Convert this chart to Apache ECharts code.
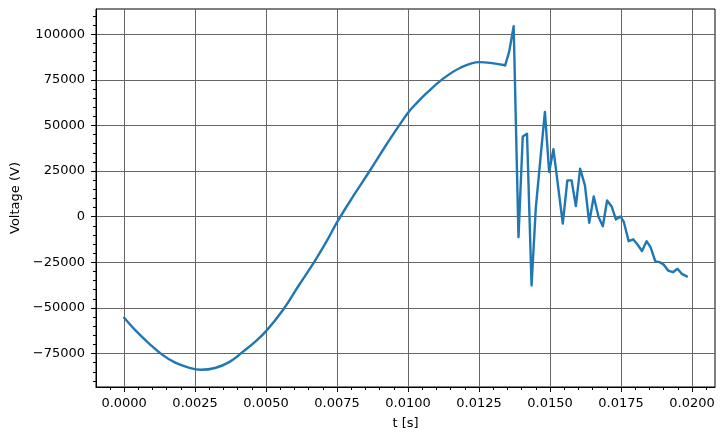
<!DOCTYPE html>
<html>
<head>
<meta charset="utf-8">
<script src="https://cdn.jsdelivr.net/npm/echarts@6/dist/echarts.min.js"></script>
<style>html,body{margin:0;padding:0;background:#fff;}#c{width:725px;height:440px;}</style>
</head>
<body>
<div id="c"></div>
<script>
// smooth charging part: time [s] and voltage [V]
const timesSmooth = [0, 0.0004, 0.0009, 0.00135, 0.0018, 0.0023, 0.0027, 0.0032, 0.0037, 0.0042, 0.0046, 0.005,
  0.0056, 0.00615, 0.00668, 0.00715, 0.0075, 0.00808, 0.00867, 0.0092, 0.00967, 0.01, 0.01031, 0.01066,
  0.01119, 0.01183, 0.01251, 0.01289, 0.01342];
const voltsSmooth = [-55400, -62300, -69800, -75700, -80000, -82800, -83900, -82900, -79700, -73800, -68700, -62700,
  -51000, -37700, -25200, -13000, -3000, 11500, 25600, 38600, 49600, 57000, 62400, 67800,
  75100, 81500, 84700, 84300, 83000];
// oscillating part: time [s] and voltage [V]
const timesOsc = [0.01342, 0.01356, 0.01372, 0.01389, 0.01404, 0.01419, 0.01435, 0.0145,
  0.01467, 0.01482, 0.01497, 0.01512, 0.01545, 0.01561, 0.01576, 0.01591, 0.01606, 0.01623, 0.01638,
  0.01654, 0.01671, 0.01686, 0.01701, 0.01717, 0.01732, 0.01748, 0.0176, 0.01777, 0.01793, 0.01808,
  0.01824, 0.0184, 0.01854, 0.01871, 0.01886, 0.019, 0.01916, 0.01933, 0.01949, 0.01964, 0.01982];
const voltsOsc = [83000, 90300, 104400, -11200, 44000, 45500, -37700, 5000,
  33000, 57400, 24500, 37000, -3800, 19900, 19900, 5800, 26300, 17200, -3300,
  11100, -200, -5200, 8900, 5600, -1500, 160, -2900, -13400, -12400, -15200,
  -18800, -13400, -16700, -24500, -24900, -26200, -29500, -30400, -28500, -31300, -32700];
const xTicks = [0, 0.0025, 0.005, 0.0075, 0.01, 0.0125, 0.015, 0.0175, 0.02];
const yTicks = [-75000, -50000, -25000, 0, 25000, 50000, 75000, 100000];
const xMinorTicks = [];
for (let i = -1; i <= 41; i++) { if (i % 5 !== 0) xMinorTicks.push(+(i * 0.0005).toFixed(4)); }
const yMinorTicks = [];
for (let i = -18; i <= 22; i++) { if (i % 5 !== 0) yMinorTicks.push(i * 5000); }

const xMin = -0.000991, xMax = 0.020811;
const yMin = -93315, yMax = 113815;
const font = 'DejaVu Sans';
const minus = s => String(s).replace('-', '\u2212');
const lineColor = '#1f77b4';

const chart = echarts.init(document.getElementById('c'), null, {renderer: 'canvas'});
chart.setOption({
  animation: false,
  backgroundColor: '#fff',
  grid: {left: 96, right: 10, top: 9, bottom: 53, show: true, borderColor: '#000', borderWidth: 1, containLabel: false},
  xAxis: [{
    type: 'value', min: xMin, max: xMax, position: 'bottom',
    name: 't [s]', nameLocation: 'middle', nameGap: 30,
    nameTextStyle: {color: '#000', fontSize: 13, fontFamily: font},
    axisLine: {show: true, onZero: false, lineStyle: {color: '#000', width: 1}},
    axisTick: {show: true, length: 5, lineStyle: {color: '#000'}, customValues: xTicks},
    axisLabel: {show: true, margin: 10, color: '#000', fontSize: 13, fontFamily: font, customValues: xTicks,
      formatter: v => minus(v.toFixed(4))},
    splitLine: {show: true, lineStyle: {color: '#666', width: 1}}
  }, {
    type: 'value', min: xMin, max: xMax, position: 'bottom',
    axisLine: {show: false, onZero: false},
    axisTick: {show: true, length: 3, lineStyle: {color: '#000'}, customValues: xMinorTicks},
    axisLabel: {show: false},
    splitLine: {show: false}
  }],
  yAxis: [{
    type: 'value', min: yMin, max: yMax, position: 'left',
    name: 'Voltage (V)', nameLocation: 'middle', nameGap: 71, nameRotate: 90,
    nameTextStyle: {color: '#000', fontSize: 13, fontFamily: font},
    axisLine: {show: true, onZero: false, lineStyle: {color: '#000', width: 1}},
    axisTick: {show: true, length: 5, lineStyle: {color: '#000'}, customValues: yTicks},
    axisLabel: {show: true, margin: 11, color: '#000', fontSize: 13, fontFamily: font, customValues: yTicks,
      formatter: v => minus(v)},
    splitLine: {show: true, lineStyle: {color: '#666', width: 1}}
  }, {
    type: 'value', min: yMin, max: yMax, position: 'left',
    axisLine: {show: false, onZero: false},
    axisTick: {show: true, length: 3, lineStyle: {color: '#000'}, customValues: yMinorTicks},
    axisLabel: {show: false},
    splitLine: {show: false}
  }],
  series: [{
    type: 'line', xAxisIndex: 0, yAxisIndex: 0,
    data: timesSmooth.map((t, i) => [t, voltsSmooth[i]]),
    showSymbol: false, smooth: 0.4,
    lineStyle: {color: lineColor, width: 2.4, cap: 'round', join: 'round'},
    itemStyle: {color: lineColor},
    z: 5
  }, {
    type: 'line', xAxisIndex: 0, yAxisIndex: 0,
    data: timesOsc.map((t, i) => [t, voltsOsc[i]]),
    showSymbol: false, smooth: false,
    lineStyle: {color: lineColor, width: 2.4, cap: 'round', join: 'round'},
    itemStyle: {color: lineColor},
    z: 5
  }]
});
</script>
</body>
</html>
